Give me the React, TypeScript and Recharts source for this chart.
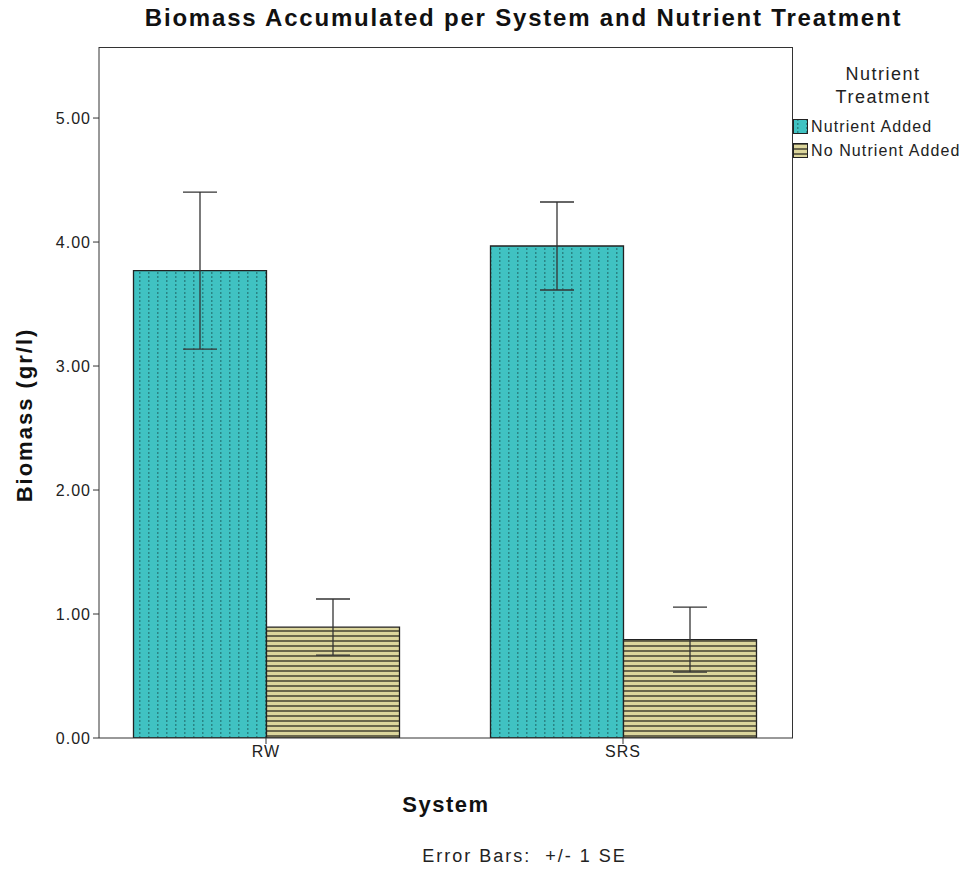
import React from 'react';
import { BarChart, Bar, XAxis, YAxis, ErrorBar, Legend } from 'recharts';

const systems = ['RW', 'SRS'];
const nutrientAdded = [3.77, 3.968];
const nutrientAddedSE = [0.633, 0.355];
const noNutrientAdded = [0.895, 0.794];
const noNutrientAddedSE = [0.226, 0.262];
const yTicks = [0, 1, 2, 3, 4, 5];

const FONT = '"Liberation Sans", Arial, sans-serif';

const data = systems.map((s, i) => ({
  system: s,
  added: nutrientAdded[i],
  addedSE: nutrientAddedSE[i],
  none: noNutrientAdded[i],
  noneSE: noNutrientAddedSE[i],
}));

const LegendBox = () => (
  <div style={{ fontFamily: FONT, color: '#222', width: 180 }}>
    <div style={{ textAlign: 'center', fontSize: 18, letterSpacing: 1.5, lineHeight: '23px', width: 180 }}>
      Nutrient<br />Treatment
    </div>
    <div style={{ marginTop: 6 }}>
      {[
        { label: 'Nutrient Added', fill: 'url(#dotsTeal)' },
        { label: 'No Nutrient Added', fill: 'url(#stripesKhaki)' },
      ].map(item => (
        <div key={item.label} style={{ display: 'flex', alignItems: 'center', height: 24, fontSize: 16, letterSpacing: 1.1, whiteSpace: 'nowrap' }}>
          <svg width={16} height={16} style={{ marginRight: 2 }}>
            <rect x={0.5} y={0.5} width={14} height={14} fill={item.fill} stroke="#222" />
          </svg>
          {item.label}
        </div>
      ))}
    </div>
  </div>
);

const YLabel = () => (
  <text
    x={24}
    y={415}
    transform="rotate(-90 24 415)"
    textAnchor="middle"
    dominantBaseline="central"
    fill="#111"
    fontSize={22}
    fontWeight="bold"
    fontFamily={FONT}
    letterSpacing={2}
  >
    Biomass (gr/l)
  </text>
);

export default function App() {
  return (
    <div style={{ position: 'absolute', left: 0, top: 0, width: 971, height: 869, background: '#fff', fontFamily: FONT }}>
      <div style={{ position: 'absolute', left: 0, width: 1047, top: 4, textAlign: 'center', fontSize: 24, letterSpacing: 1.8, fontWeight: 'bold', color: '#111' }}>
        Biomass Accumulated per System and Nutrient Treatment
      </div>
      <div style={{ position: 'absolute', left: 0, width: 1049, top: 846, textAlign: 'center', fontSize: 18, letterSpacing: 2, color: '#222', whiteSpace: 'pre' }}>
        Error Bars:  +/- 1 SE
      </div>
      <BarChart
        width={971}
        height={869}
        data={data}
        margin={{ top: 47, right: 178, left: 39, bottom: 101 }}
        barCategoryGap={46}
        barGap={0}
      >
        <defs>
          <pattern id="dotsTeal" patternUnits="userSpaceOnUse" width={9} height={4}>
            <rect width={9} height={4} fill="#40C2C2" />
            <rect x={4} y={0} width={1.5} height={2} fill="#2A8585" />
          </pattern>
          <pattern id="stripesKhaki" patternUnits="userSpaceOnUse" width={6} height={5}>
            <rect width={6} height={5} fill="#DCD69C" />
            <rect x={0} y={0} width={6} height={2} fill="#6A674C" />
          </pattern>
        </defs>
        <XAxis
          dataKey="system"
          padding={{ left: -11.5, right: -8.5 }}
          height={30}
          tickLine={{ stroke: '#333' }}
          axisLine={{ stroke: '#333' }}
          tickSize={6}
          tick={{ fill: '#222', fontSize: 16, letterSpacing: 1, fontFamily: FONT }}
          label={{ value: 'System', position: 'insideBottom', offset: -44, fill: '#111', fontSize: 22, letterSpacing: 1.5, fontWeight: 'bold', fontFamily: FONT }}
        />
        <YAxis
          domain={[0, 5.573]}
          ticks={yTicks}
          allowDataOverflow
          width={60}
          tickSize={6}
          tickLine={{ stroke: '#333' }}
          axisLine={{ stroke: '#333' }}
          tickFormatter={(v: number) => v.toFixed(2)}
          tick={{ fill: '#222', fontSize: 16, letterSpacing: 1, fontFamily: FONT }}
          label={{ content: () => <YLabel /> }}
        />
        <Legend
          layout="vertical"
          align="center"
          verticalAlign="middle"
          wrapperStyle={{ left: 793, top: 63, width: 180 }}
          content={() => <LegendBox />}
        />
        <Bar dataKey="added" name="Nutrient Added" fill="url(#dotsTeal)" stroke="#222" strokeWidth={1.3} isAnimationActive={false}>
          <ErrorBar dataKey="addedSE" width={17} stroke="#333" strokeWidth={1.3} direction="y" />
        </Bar>
        <Bar dataKey="none" name="No Nutrient Added" fill="url(#stripesKhaki)" stroke="#222" strokeWidth={1.3} isAnimationActive={false}>
          <ErrorBar dataKey="noneSE" width={17} stroke="#333" strokeWidth={1.3} direction="y" />
        </Bar>
      </BarChart>
      <div style={{ position: 'absolute', left: 99, top: 47, width: 694, height: 691, border: '1px solid #333', boxSizing: 'border-box', pointerEvents: 'none', borderBottom: 'none', borderLeft: 'none' }} />
    </div>
  );
}
